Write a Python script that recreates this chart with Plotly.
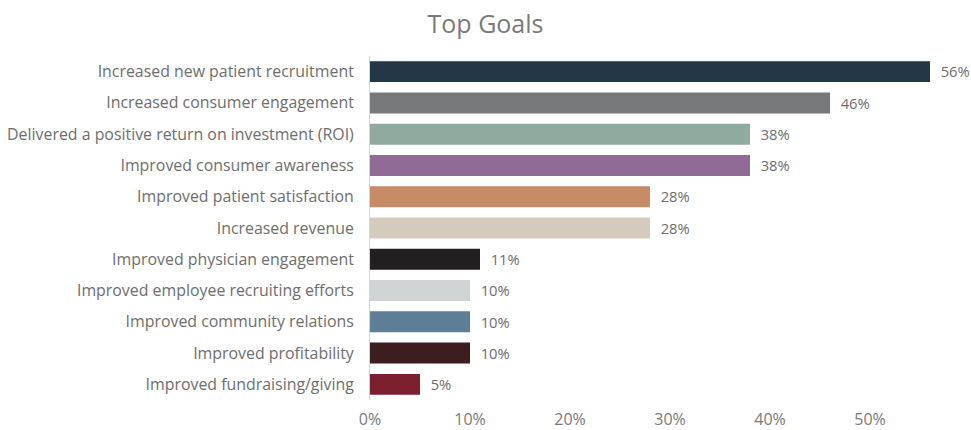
import plotly.graph_objects as go

goals = [
    "Increased new patient recruitment",
    "Increased consumer engagement",
    "Delivered a positive return on investment (ROI)",
    "Improved consumer awareness",
    "Improved patient satisfaction",
    "Increased revenue",
    "Improved physician engagement",
    "Improved employee recruiting efforts",
    "Improved community relations",
    "Improved profitability",
    "Improved fundraising/giving",
]
shares = [0.56, 0.46, 0.38, 0.38, 0.28, 0.28, 0.11, 0.10, 0.10, 0.10, 0.05]
bar_colors = [
    "#233645", "#77787a", "#8fab9f", "#8f6b95", "#c78b65", "#d4cbbd",
    "#231f20", "#d0d4d4", "#5d7f96", "#3d1d1f", "#7b1f2e",
]
tick_values = [0, 0.1, 0.2, 0.3, 0.4, 0.5]
tick_labels = ["0%", "10%", "20%", "30%", "40%", "50%"]

text_grey = "#6e6e6e"
font_family = "'Open Sans', Lato, sans-serif"

fig = go.Figure(
    go.Bar(
        x=shares,
        y=goals,
        orientation="h",
        marker=dict(color=bar_colors, line=dict(width=0)),
        text=[f"{round(v * 100)}%" for v in shares],
        texttemplate="  %{text}",
        textposition="outside",
        textfont=dict(family=font_family, size=15.5, color=text_grey),
        cliponaxis=False,
        hoverinfo="skip",
    )
)

fig.update_layout(
    width=971,
    height=430,
    margin=dict(l=370, r=3, t=56, b=30),
    paper_bgcolor="white",
    plot_bgcolor="white",
    bargap=0.33,
    showlegend=False,
    title=dict(
        text="Top Goals",
        x=0.5,
        xanchor="center",
        y=0.943,
        yanchor="middle",
        font=dict(family=font_family, size=25, color="#7a7a7a"),
    ),
    font=dict(family=font_family, color=text_grey),
)

fig.update_xaxes(
    range=[0, 0.598],
    tickvals=tick_values,
    ticktext=tick_labels,
    showgrid=False,
    zeroline=False,
    showline=False,
    ticks="",
    ticklabelstandoff=8,
    automargin=False,
    tickfont=dict(family=font_family, size=16, color="#7a7a7a"),
    fixedrange=True,
)

fig.update_yaxes(
    categoryorder="array",
    categoryarray=goals[::-1],
    showgrid=False,
    zeroline=False,
    showline=True,
    linecolor="#d6d6d6",
    linewidth=1,
    ticks="",
    ticklabelstandoff=12,
    automargin=False,
    tickfont=dict(family=font_family, size=15.9, color=text_grey),
    fixedrange=True,
)

fig.write_html("out.html")
